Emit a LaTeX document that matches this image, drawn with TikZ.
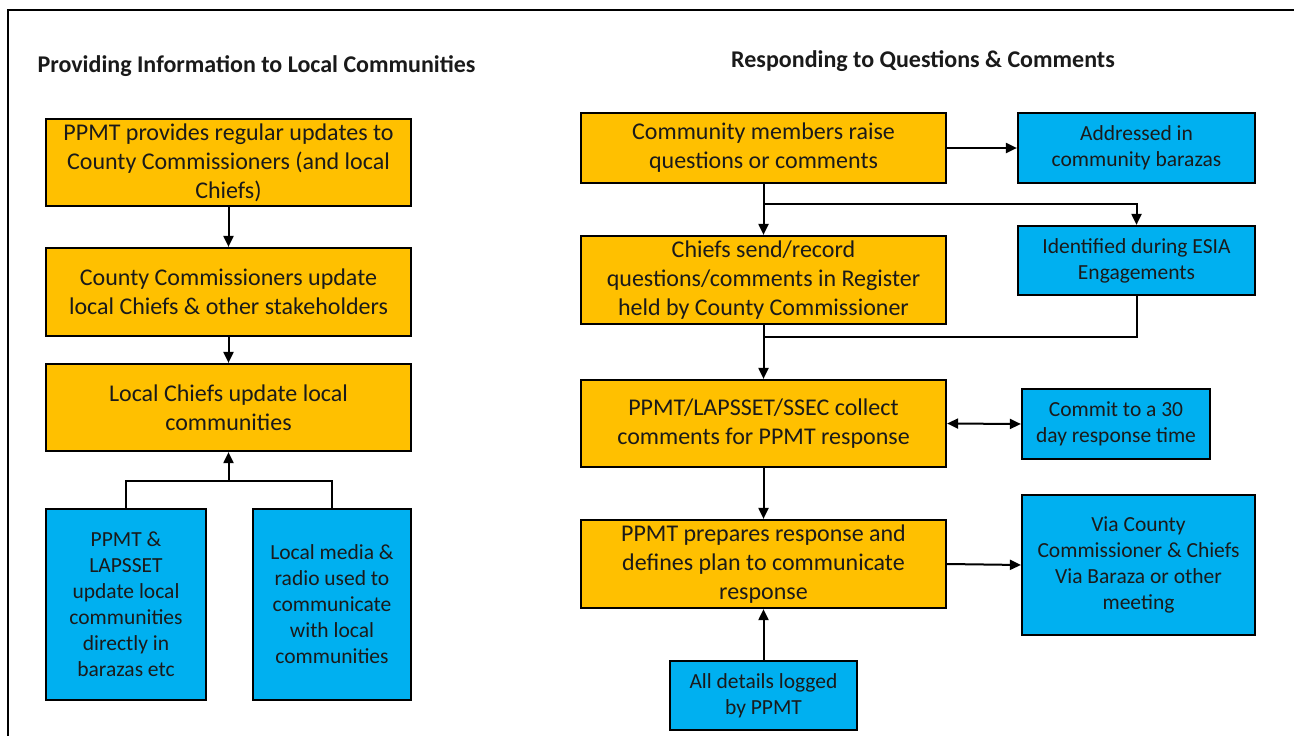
\documentclass[tikz,border=0pt]{standalone}
\usepackage{fontspec}
\setmainfont{Carlito}
\usetikzlibrary{arrows.meta}
\definecolor{boxorange}{HTML}{FFC000}
\definecolor{boxblue}{HTML}{00B0F0}
\definecolor{txt}{HTML}{1A1A1A}
\tikzset{
  obox/.style={rectangle, draw=black, line width=2.2pt, fill=boxorange, align=center, inner sep=2pt,
    text=txt, font=\fontsize{24}{29}\selectfont},
  bbox/.style={rectangle, draw=black, line width=2.2pt, fill=boxblue, align=center, inner sep=2pt,
    text=txt, font=\fontsize{21.5}{26}\selectfont},
  ttl/.style={font=\fontsize{24}{28}\selectfont\bfseries, text=txt, inner sep=0pt},
  conn/.style={line width=2pt, draw=black},
  arr/.style={conn, -{Triangle[length=11pt,width=10pt]}},
  darr/.style={conn, {Triangle[length=11pt,width=10pt]}-{Triangle[length=11pt,width=10pt]}},
}
\begin{document}
\begin{tikzpicture}[x=1pt,y=-1pt]
\useasboundingbox (0,0) rectangle (1294,736);
\fill[white] (0,0) rectangle (1294,736);
\draw[line width=2.2pt] (8,736) -- (8,10) -- (1294,10);

% titles
\node[ttl] (tl) at (256.5,66) {Providing Information to Local Communities};
\node[ttl] (tr) at (923,61) {Responding to Questions \& Comments};

% left column
\node[obox, minimum width=365pt, minimum height=87pt] (L1) at (228.5,162.5)
  {PPMT provides regular updates to\\County Commissioners (and local\\Chiefs)};
\node[obox, minimum width=365pt, minimum height=88pt] (L2) at (228.5,292)
  {County Commissioners update\\local Chiefs \& other stakeholders};
\node[obox, minimum width=365pt, minimum height=87pt] (L3) at (228.5,407.5)
  {Local Chiefs update local\\communities};
\node[bbox, minimum width=160pt, minimum height=191pt] (L4) at (126,604.5)
  {PPMT \&\\LAPSSET\\update local\\communities\\directly in\\barazas etc};
\node[bbox, minimum width=158pt, minimum height=191pt] (L5) at (332,604.5)
  {Local media \&\\radio used to\\communicate\\with local\\communities};

\draw[arr] (L1.south) -- (L2.north);
\draw[arr] (L2.south) -- (L3.north);
\coordinate (jL) at (228.5,481);
\draw[conn] (L4.north) |- (jL);
\draw[conn] (L5.north) |- (jL);
\draw[arr] (jL) -- (L3.south);

% right column
\node[obox, minimum width=365pt, minimum height=70pt] (R1) at (763.5,148)
  {Community members raise\\questions or comments};
\node[bbox, minimum width=237pt, minimum height=70pt] (B1) at (1136.5,148)
  {Addressed in\\community barazas};
\node[obox, minimum width=365pt, minimum height=88pt] (R2) at (763.5,280)
  {Chiefs send/record\\questions/comments in Register\\held by County Commissioner};
\node[bbox, minimum width=237pt, minimum height=69pt] (B2) at (1136.5,260.5)
  {Identified during ESIA\\Engagements};
\node[obox, minimum width=365pt, minimum height=87pt] (R3) at (763.5,423.5)
  {PPMT/LAPSSET/SSEC collect\\comments for PPMT response};
\node[bbox, minimum width=188pt, minimum height=70pt] (B3) at (1116,424)
  {Commit to a 30\\day response time};
\node[obox, minimum width=365pt, minimum height=88pt] (R4) at (763.5,564)
  {PPMT prepares response and\\defines plan to communicate\\response};
\node[bbox, minimum width=233pt, minimum height=140pt] (B4) at (1138.5,565)
  {Via County\\Commissioner \& Chiefs\\Via Baraza or other\\meeting};
\node[bbox, minimum width=187pt, minimum height=69pt] (B5) at (763.5,695.5)
  {All details logged\\by PPMT};

\draw[arr] (R1.east) -- (B1.west);
\draw[arr] (R1.south) -- (R2.north);
\coordinate (jR1) at (763.5,204);
\draw[arr] (jR1) -| (B2.north);
\coordinate (jR2) at (763.5,337);
\draw[conn] (B2.south) |- (jR2);
\draw[arr] (R2.south) -- (R3.north);
\draw[darr] (R3.east) -- (B3.west);
\draw[arr] (R3.south) -- (R4.north);
\draw[arr] (R4.east) -- (B4.west);
\draw[arr] (B5.north) -- (R4.south);
\end{tikzpicture}
\end{document}
